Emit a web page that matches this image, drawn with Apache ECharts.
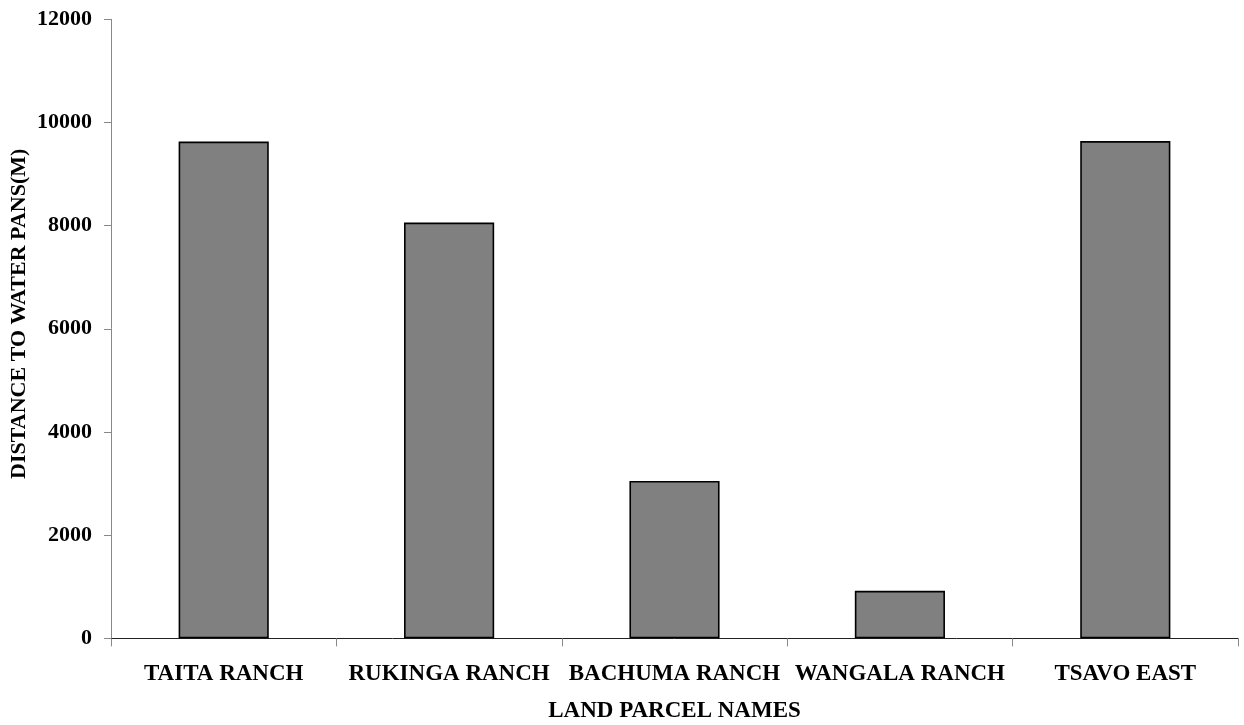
<!DOCTYPE html>
<html>
<head>
<meta charset="utf-8">
<script src="https://cdn.jsdelivr.net/npm/echarts@6/dist/echarts.min.js"></script>
<style>
html,body{margin:0;padding:0;background:#fff;}
#chart{width:1244px;height:725px;}
</style>
</head>
<body>
<div id="chart"></div>
<script>
const categories = ["TAITA RANCH", "RUKINGA RANCH", "BACHUMA RANCH", "WANGALA RANCH", "TSAVO EAST"];
const distances = [9630, 8060, 3050, 920, 9640];
const yTicks = [0, 2000, 4000, 6000, 8000, 10000, 12000];
const xTitle = "LAND PARCEL NAMES";
const yTitle = "DISTANCE TO WATER PANS(M)";

const fontFam = "'Liberation Serif', 'Times New Roman', serif";
const chart = echarts.init(document.getElementById('chart'), null, {renderer: 'canvas'});
chart.setOption({
  animation: false,
  backgroundColor: '#ffffff',
  grid: {left: 111, right: 6, top: 19.3, bottom: 86.7, containLabel: false, outerBoundsMode: 'none'},
  xAxis: {
    type: 'category',
    data: categories,
    name: xTitle,
    nameLocation: 'middle',
    nameGap: 61,
    nameMoveOverlap: false,
    nameTextStyle: {fontFamily: fontFam, fontWeight: 'bold', fontSize: 23, color: '#000'},
    axisLine: {show: true, lineStyle: {color: '#222', width: 1}},
    axisTick: {show: true, length: 8, lineStyle: {color: '#888', width: 1}},
    axisLabel: {fontFamily: fontFam, fontWeight: 'bold', fontSize: 23, color: '#000', margin: 24, interval: 0},
    splitLine: {show: false}
  },
  yAxis: {
    type: 'value',
    min: yTicks[0],
    max: yTicks[yTicks.length - 1],
    interval: yTicks[1] - yTicks[0],
    name: yTitle,
    nameLocation: 'middle',
    nameGap: 81,
    nameRotate: 90,
    nameMoveOverlap: false,
    nameTextStyle: {fontFamily: fontFam, fontWeight: 'bold', fontSize: 22, color: '#000', padding: [0, 0, 0, 30]},
    axisLine: {show: true, lineStyle: {color: '#888', width: 1}},
    axisTick: {show: true, length: 7, lineStyle: {color: '#888', width: 1}},
    axisLabel: {fontFamily: fontFam, fontWeight: 'bold', fontSize: 22, color: '#000', margin: 19, formatter: v => String(v)},
    splitLine: {show: false}
  },
  series: [{
    type: 'bar',
    data: distances,
    barWidth: '40%',
    itemStyle: {color: '#808080', borderColor: '#000', borderWidth: 1.6}
  }]
});
</script>
</body>
</html>
